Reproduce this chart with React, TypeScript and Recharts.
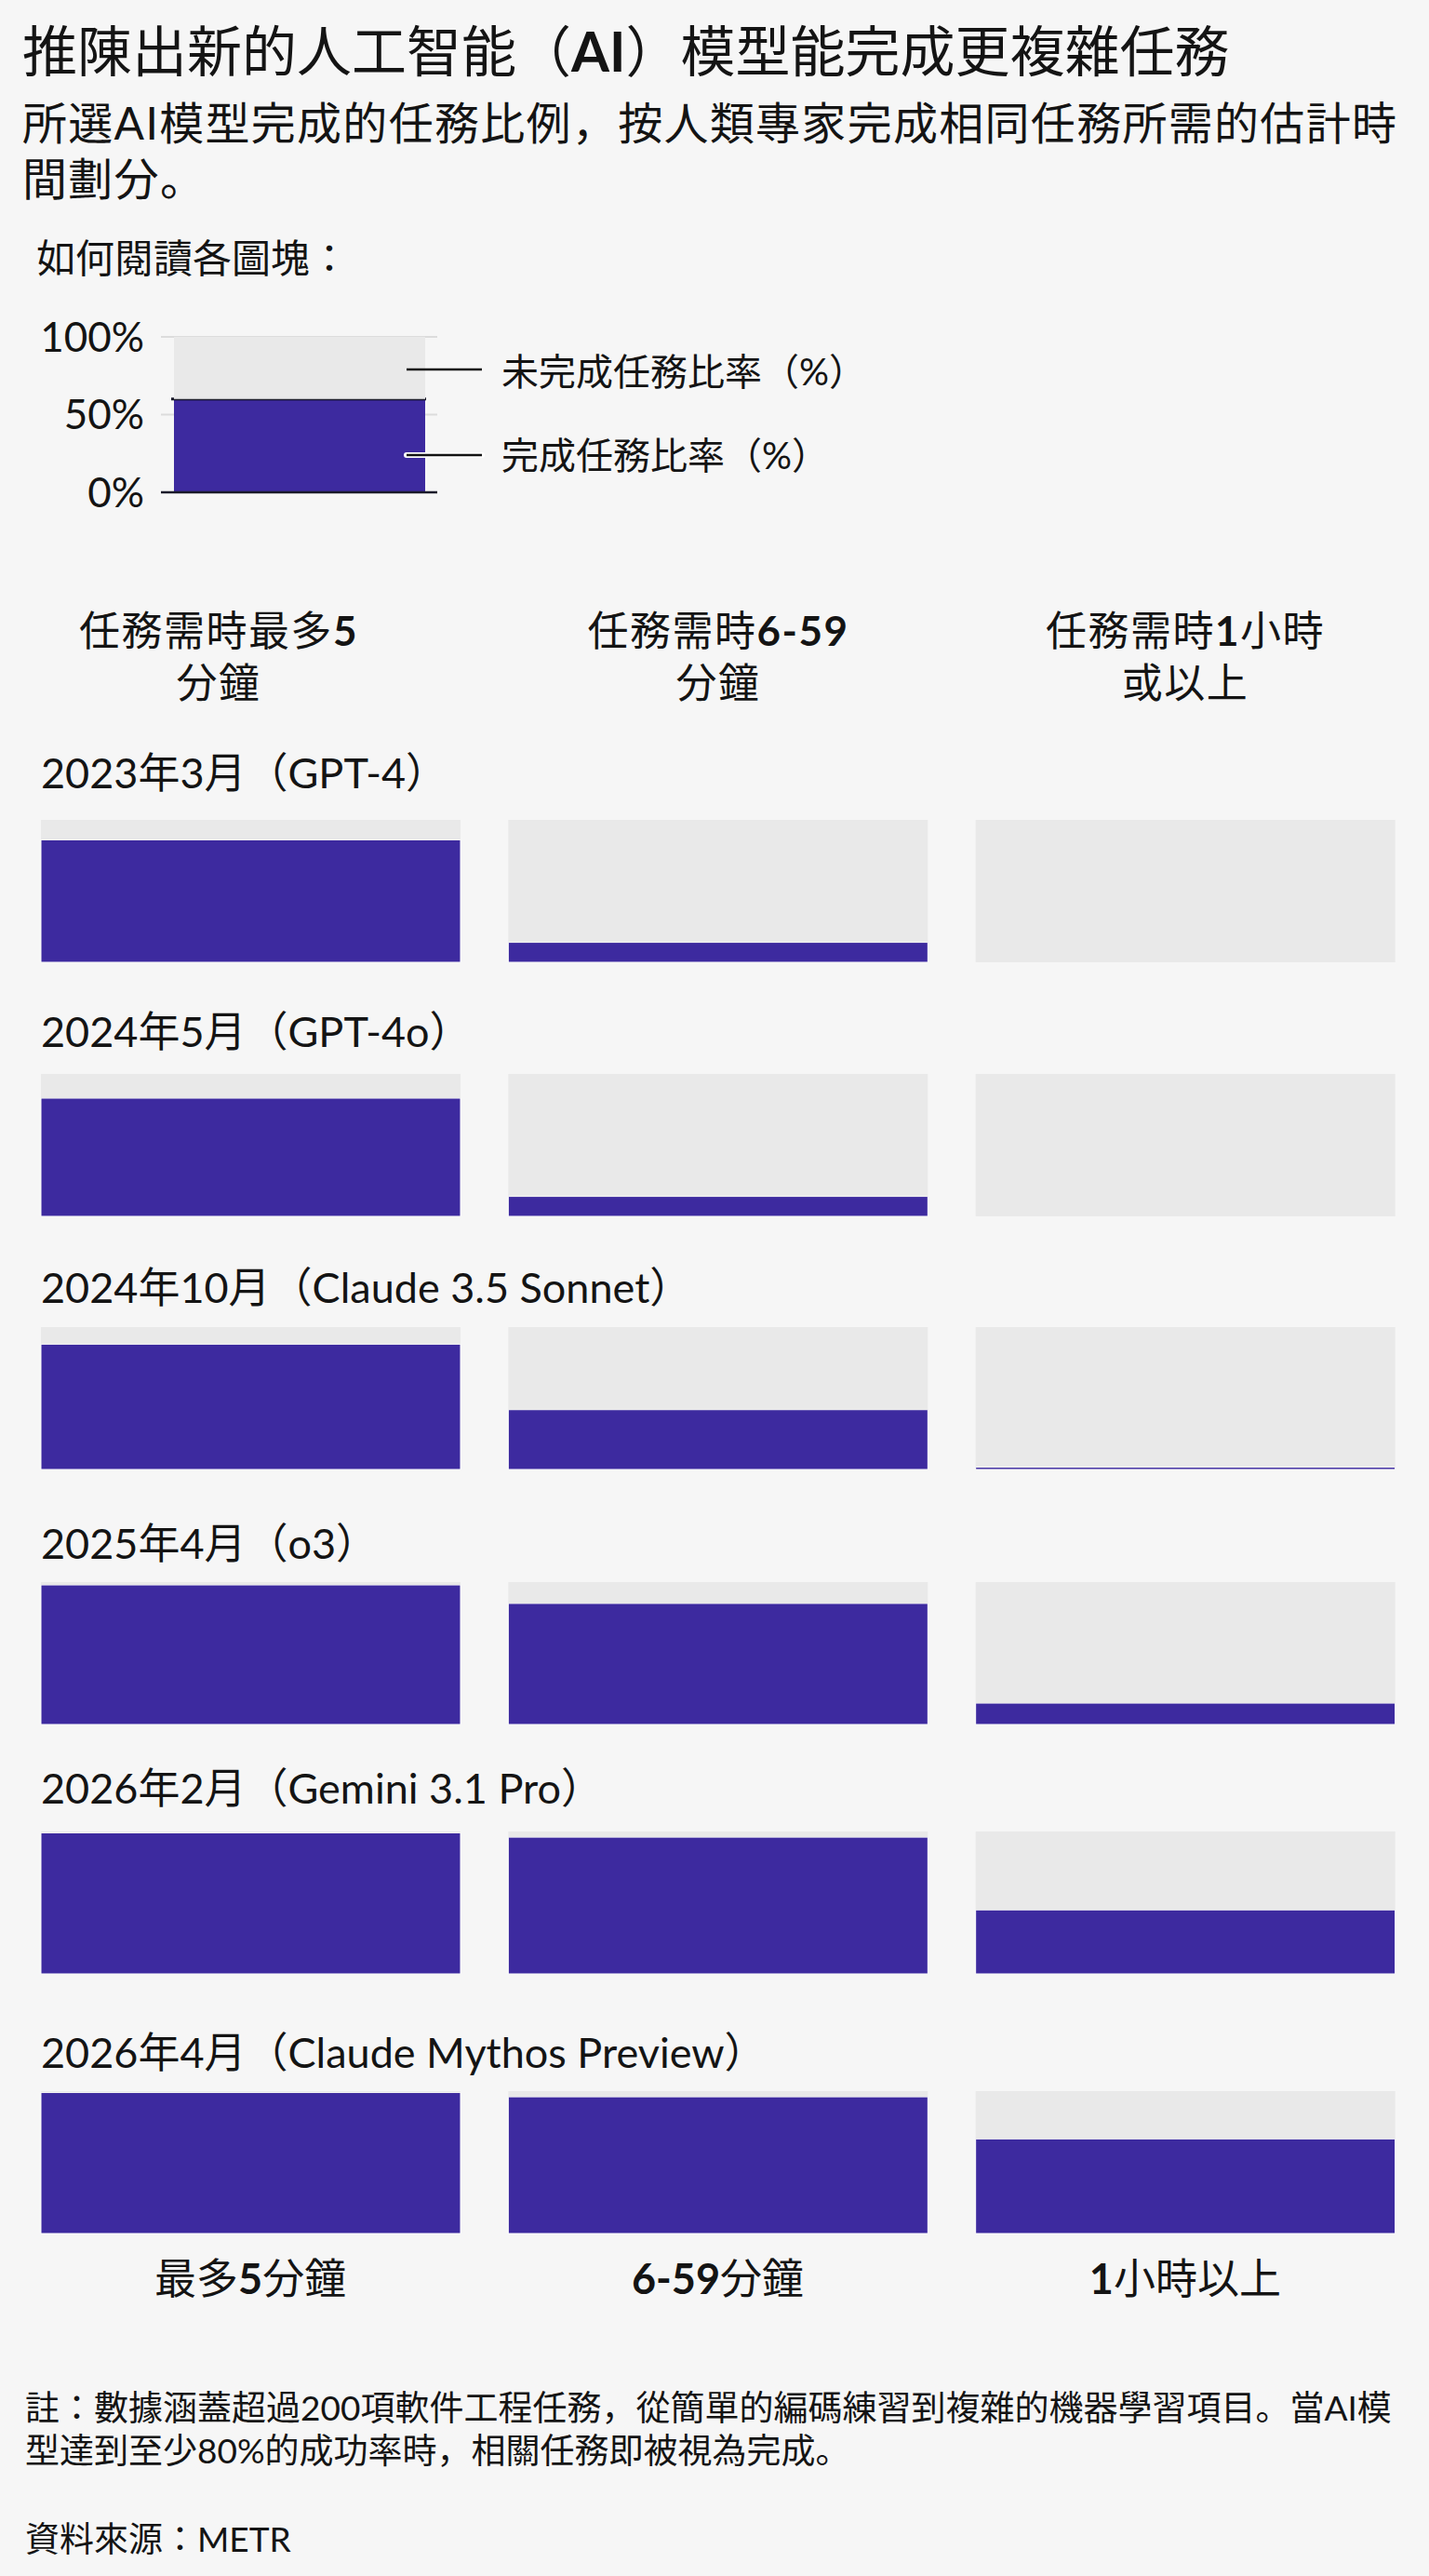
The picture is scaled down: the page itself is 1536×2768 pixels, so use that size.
import React from 'react';
import { BarChart, Bar, XAxis, YAxis, CartesianGrid, ReferenceLine } from 'recharts';

// columns: how long the task takes a human expert
const CATEGORIES = ['最多5分鐘', '6-59分鐘', '1小時以上'];
const HEADERS = [
    ['任務需時最多5', '分鐘'],
    ['任務需時6-59', '分鐘'],
    ['任務需時1小時', '或以上'],
];

const MODELS = [
    '2023年3月（GPT-4）',
    '2024年5月（GPT-4o）',
    '2024年10月（Claude 3.5 Sonnet）',
    '2025年4月（o3）',
    '2026年2月（Gemini 3.1 Pro）',
    '2026年4月（Claude Mythos Preview）',
];

// % of tasks completed, one value per model
const UP_TO_5_MIN = [86, 83, 88, 98, 99, 99];
const MIN_6_TO_59 = [14, 14, 42, 85, 96, 96];
const HOUR_PLUS = [0, 0, 1.6, 15, 45, 66.5];

// "how to read" key
const KEY_DONE = 60;
const KEY_TICKS = [0, 50, 100];

const PURPLE = '#3d2a9f';
const GREY = '#e9e9e9';
const BG = '#f6f6f6';
const INK = '#141414';
// latin first (compact line box), CJK falls back
const FONT = 'Lato, "Noto Sans CJK JP", "Noto Sans CJK TC", sans-serif';

const ROW_TOP = [881, 1154, 1426, 1700, 1968, 2247];
const LABEL_Y = [830, 1108, 1383, 1658, 1921, 2205];
const HEADER_X = [235, 772, 1274];
const BAR_H = 153;

const boldDigits = (s: string) =>
    s.split(/([0-9-]+)/).filter(Boolean).map((p, i) =>
        /[0-9]/.test(p) ? <b key={i}>{p}</b> : <span key={i}>{p}</span>
    );

const rowData = (r: number) =>
    CATEGORIES.map((cat, i) => {
        const done = [UP_TO_5_MIN, MIN_6_TO_59, HOUR_PLUS][i][r];
        return { cat, done, rest: 100 - done };
    });

const BottomTick = (props: any) => {
    const { x, y, payload } = props;
    const parts = String(payload.value).split(/([0-9-]+)/).filter(Boolean);
    return (
        <text x={x} y={y + 46} textAnchor="middle" dominantBaseline="central" fontSize={45} fontFamily={FONT} fill={INK}>
            {parts.map((p, i) => (
                <tspan key={i} fontWeight={/[0-9]/.test(p) ? 700 : 400}>{p}</tspan>
            ))}
        </text>
    );
};

const KeyDoneShape = (props: any) => {
    const { x, y, width, height, fill } = props;
    return (
        <g>
            <rect x={x} y={y} width={width} height={height} fill={fill} />
            <line x1={x - 3} x2={x + width + 1} y1={y} y2={y} stroke="#1a1a2a" strokeWidth={3} />
        </g>
    );
};

const abs = (top: number, left: number, extra: React.CSSProperties = {}): React.CSSProperties => ({
    position: 'absolute', top, left, margin: 0, whiteSpace: 'nowrap', color: INK, fontFamily: FONT, ...extra,
});

export default function App() {
    return (
        <div style={{ position: 'absolute', left: 0, top: 0, width: 1536, height: 2768, background: BG, fontFamily: FONT, overflow: 'hidden' }}>
            <div style={abs(20, 24, { fontSize: 59, lineHeight: '70px' })}>
                推陳出新的人工智能（<b>AI</b>）模型能完成更複雜任務
            </div>
            <div style={abs(102, 24, { fontSize: 48, lineHeight: '60px', letterSpacing: 1.3 })}>
                <div>所選AI模型完成的任務比例，按人類專家完成相同任務所需的估計時</div>
                <div>間劃分。</div>
            </div>
            <div style={abs(252, 39, { fontSize: 42, lineHeight: '50px' })}>如何閱讀各圖塊：</div>

            {/* key */}
            <div style={{ position: 'absolute', top: 310, left: 0 }}>
                <BarChart
                    width={560}
                    height={270}
                    data={[{ k: 'key', done: KEY_DONE, rest: 100 - KEY_DONE }]}
                    margin={{ top: 52, right: 90, bottom: 51, left: 23 }}
                    barSize={270}
                >
                    <CartesianGrid vertical={false} stroke="#dcdcdc" strokeWidth={2} />
                    <XAxis dataKey="k" hide />
                    <YAxis
                        width={150}
                        domain={[0, 100]}
                        ticks={KEY_TICKS}
                        tickFormatter={(v) => `${v}%`}
                        axisLine={false}
                        tickLine={false}
                        tickSize={0}
                        tickMargin={18}
                        tick={{ fontSize: 44, fill: INK, fontFamily: FONT }}
                    />
                    <Bar dataKey="done" stackId="k" fill={PURPLE} shape={<KeyDoneShape />} isAnimationActive={false} />
                    <Bar dataKey="rest" stackId="k" fill={GREY} isAnimationActive={false} />
                    <ReferenceLine y={0} stroke="#1a1a2a" strokeWidth={2.5} />
                </BarChart>
            </div>
            <svg style={{ position: 'absolute', top: 0, left: 0 }} width={560} height={580}>
                <line x1={437} x2={518} y1={397} y2={397} stroke={INK} strokeWidth={2.5} />
                <line x1={437} x2={518} y1={489} y2={489} stroke="#fff" strokeWidth={6} strokeLinecap="round" />
                <line x1={437} x2={518} y1={489} y2={489} stroke={INK} strokeWidth={2.5} />
            </svg>
            <div style={abs(375, 539, { fontSize: 40, lineHeight: '48px' })}>未完成任務比率（%）</div>
            <div style={abs(465, 539, { fontSize: 40, lineHeight: '48px' })}>完成任務比率（%）</div>

            {/* column headers */}
            {HEADERS.map((lines, i) => (
                <div key={i} style={abs(649, HEADER_X[i] - 250, { width: 500, textAlign: 'center', fontSize: 44, lineHeight: '56px', letterSpacing: 1.5 })}>
                    {lines.map((l, j) => <div key={j}>{boldDigits(l)}</div>)}
                </div>
            ))}

            {/* one small chart per model */}
            {MODELS.map((m, r) => {
                const isLast = r === MODELS.length - 1;
                return (
                    <React.Fragment key={m}>
                        <div style={abs(LABEL_Y[r] - 25, 44, { fontSize: 45, lineHeight: '50px' })}>{m}</div>
                        <div style={{ position: 'absolute', top: ROW_TOP[r], left: 0 }}>
                            <BarChart
                                width={1536}
                                height={isLast ? BAR_H + 90 : BAR_H}
                                data={rowData(r)}
                                margin={{ top: 0, right: 11, bottom: 0, left: 18 }}
                                barSize={451}
                            >
                                <XAxis
                                    dataKey="cat"
                                    hide={!isLast}
                                    height={90}
                                    axisLine={false}
                                    tickLine={false}
                                    tickSize={0}
                                    interval={0}
                                    tick={(p: any) => <BottomTick {...p} />}
                                />
                                <YAxis hide domain={[0, 100]} />
                                <Bar dataKey="done" stackId="s" fill={PURPLE} stroke="#ffffff" strokeWidth={1} isAnimationActive={false} />
                                <Bar dataKey="rest" stackId="s" fill={GREY} isAnimationActive={false} />
                            </BarChart>
                        </div>
                    </React.Fragment>
                );
            })}

            {/* footer */}
            <div style={abs(2564, 27, { fontSize: 37, lineHeight: '46px' })}>
                <div>註：數據涵蓋超過200項軟件工程任務，從簡單的編碼練習到複雜的機器學習項目。當AI模</div>
                <div>型達到至少80%的成功率時，相關任務即被視為完成。</div>
            </div>
            <div style={abs(2705, 27, { fontSize: 37, lineHeight: '46px' })}>資料來源：METR</div>
        </div>
    );
}
